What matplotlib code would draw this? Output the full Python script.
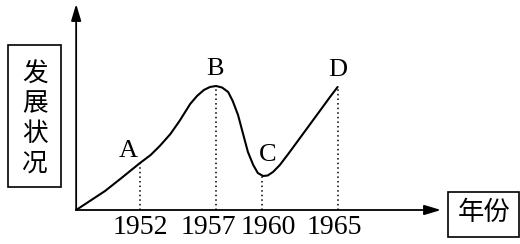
import matplotlib
matplotlib.use("Agg")
import matplotlib.pyplot as plt
from matplotlib.patches import Rectangle

# ---- data ----
curve_years = [1947.8, 1948.7, 1949.7, 1950.7, 1952.0, 1952.7, 1953.3, 1954.0,
               1954.6, 1955.3, 1955.75, 1956.2, 1956.6, 1957.0, 1957.4, 1957.8,
               1958.1, 1958.45, 1958.8, 1959.1, 1959.45, 1959.75, 1960.1, 1960.4,
               1960.75, 1961.2, 1961.8, 1962.5, 1963.2, 1963.9, 1964.5, 1965.0]
curve_values = [0, 9, 19, 31, 47, 55, 64, 76,
                89, 106, 114, 120, 123, 124, 122.5, 118,
                109, 95, 75, 58, 45, 37, 34, 34.5,
                38, 45, 57, 71.5, 86, 100.5, 113, 123]
point_labels = ["A", "B", "C", "D"]
point_years = [1952, 1957, 1960, 1965]
point_values = [47, 124, 34, 123]
tick_labels = ["1952", "1957", "1960", "1965"]
y_title = "发展状况"
x_title = "年份"

# ---- layout helpers (pixel positions on a 520x244 canvas) ----
W, H = 520, 244
def year_of(px):
    return 1952 + (px - 140) / 15.2
def val_of(py):
    return 210 - py

fig = plt.figure(figsize=(W / 100, H / 100), dpi=100)
ax = fig.add_axes([0, 0, 1, 1])
ax.set_xlim(year_of(0), year_of(W))
ax.set_ylim(val_of(H), val_of(0))
ax.axis("off")

serif = ["Liberation Serif", "DejaVu Serif"]
cjk = ["Noto Sans CJK SC", "DejaVu Sans"]

x0, y0 = curve_years[0], 0
arrow = dict(arrowstyle="-|>,head_length=1.0,head_width=0.3",
             lw=1.3, color="black", shrinkA=0, shrinkB=0)
ax.annotate("", xy=(x0, val_of(4)), xytext=(x0, y0), arrowprops=arrow)
ax.annotate("", xy=(year_of(441), y0), xytext=(x0, y0), arrowprops=arrow)

# curve
ax.plot(curve_years, curve_values, color="black", lw=1.5, solid_capstyle="round",
        solid_joinstyle="round")

# dotted drop lines
for yr, v in zip(point_years, point_values):
    ax.plot([yr, yr], [0, v], color="black", lw=1.1, linestyle=(0, (1, 2)))

# point labels (pixel positions)
label_px = {"A": (128, 151), "B": (215, 69), "C": (268, 155), "D": (338, 70)}
for lab in point_labels:
    px, py = label_px[lab]
    ax.text(year_of(px), val_of(py), lab, fontsize=19, family=serif,
            ha="center", va="center")

# tick labels
tick_px = [140, 208, 268, 334]
for lab, px in zip(tick_labels, tick_px):
    ax.text(year_of(px), val_of(228), lab, fontsize=20, family=serif,
            ha="center", va="center")

# y title box
ax.add_patch(Rectangle((year_of(8.5), val_of(187)), year_of(61.5) - year_of(8.5),
                       val_of(45) - val_of(187), fill=False, lw=1.2, ec="black"))
for i, ch in enumerate(y_title):
    ax.text(year_of(35), val_of(75 + 29.5 * i), ch, fontsize=18.5, family=cjk,
            ha="center", va="center")

# x title box
ax.add_patch(Rectangle((year_of(448), val_of(237)), year_of(518.5) - year_of(448),
                       val_of(192) - val_of(237), fill=False, lw=1.2, ec="black"))
ax.text(year_of(484), val_of(212), x_title, fontsize=19, family=cjk,
        ha="center", va="center")

fig.savefig("out.png", dpi=100)
